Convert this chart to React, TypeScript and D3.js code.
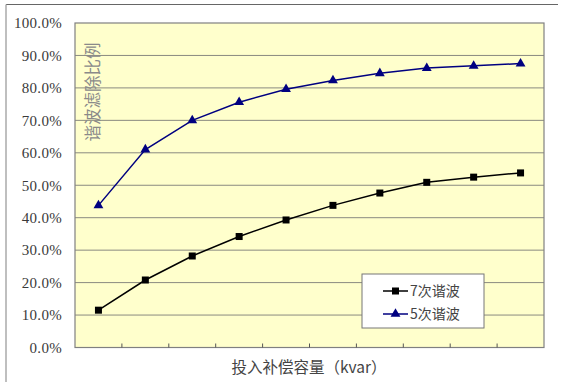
import React from "react";
import * as d3 from "d3";

const categories = ["1", "2", "3", "4", "5", "6", "7", "8", "9", "10"];
const harmonic7 = [11.5, 20.8, 28.2, 34.2, 39.3, 43.8, 47.6, 50.9, 52.5, 53.8];
const harmonic5 = [43.8, 61.0, 70.0, 75.6, 79.6, 82.3, 84.5, 86.1, 86.8, 87.5];
const yTicks = [0, 10, 20, 30, 40, 50, 60, 70, 80, 90, 100];
const seriesNames = ["7次谐波", "5次谐波"];
const xTitle = "投入补偿容量（kvar）";
const yTitle = "谐波滤除比例";

const W = 564;
const H = 382;
const plot = { left: 75, right: 544, top: 23, bottom: 347.5 };

export default function App() {
  const x = d3
    .scaleBand<string>()
    .domain(categories)
    .range([plot.left, plot.right]);
  const y = d3.scaleLinear().domain([0, 100]).range([plot.bottom, plot.top]);
  const cx = (c: string) => (x(c) as number) + x.bandwidth() / 2;

  const line = d3
    .line<number>()
    .x((_, i) => cx(categories[i]))
    .y((d) => y(d));

  const tri = d3.symbol().type(d3.symbolTriangle).size(42)();
  const cjk = "'Noto Sans CJK SC', sans-serif";
  const serif = "'Liberation Serif', 'DejaVu Serif', serif";

  return (
    <svg
      width={W}
      height={H}
      style={{ position: "absolute", left: 0, top: 0, display: "block" }}
    >
      <rect x={0} y={0} width={W} height={H} fill="#ffffff" />
      <line x1={6} y1={4.5} x2={558} y2={4.5} stroke="#666" strokeWidth={1.2} />
      <line x1={6} y1={4.5} x2={6} y2={H} stroke="#aaa" strokeWidth={1.5} />

      <rect
        x={plot.left}
        y={plot.top}
        width={plot.right - plot.left}
        height={plot.bottom - plot.top}
        fill="#FFFFCC"
      />
      {yTicks.slice(1, -1).map((t) => (
        <line
          key={t}
          x1={plot.left}
          x2={plot.right}
          y1={y(t)}
          y2={y(t)}
          stroke="#8a8a80"
          strokeWidth={1}
        />
      ))}
      <rect
        x={plot.left}
        y={plot.top}
        width={plot.right - plot.left}
        height={plot.bottom - plot.top}
        fill="none"
        stroke="#808080"
        strokeWidth={1.2}
      />
      {categories.slice(1).map((c) => (
        <line
          key={c}
          x1={x(c) as number}
          x2={x(c) as number}
          y1={plot.bottom}
          y2={plot.bottom - 4}
          stroke="#555"
          strokeWidth={1}
        />
      ))}
      {yTicks.map((t) => (
        <text
          key={t}
          x={62}
          y={y(t)}
          dy="0.35em"
          textAnchor="end"
          fontFamily={serif}
          fontSize={15}
          fill="#3a3a3a"
          letterSpacing={0.3}
        >
          {t.toFixed(1) + "%"}
        </text>
      ))}

      <text
        transform={`translate(99,92) rotate(-90)`}
        textAnchor="middle"
        fontFamily={cjk}
        fontSize={16.5}
        fill="#8a8a8a"
      >
        {yTitle}
      </text>

      <path
        d={line(harmonic5) || ""}
        fill="none"
        stroke="#000080"
        strokeWidth={1.5}
      />
      {harmonic5.map((v, i) => (
        <path
          key={i}
          d={tri || ""}
          transform={`translate(${cx(categories[i])},${y(v)})`}
          fill="#000080"
        />
      ))}
      <path
        d={line(harmonic7) || ""}
        fill="none"
        stroke="#000000"
        strokeWidth={1.5}
      />
      {harmonic7.map((v, i) => (
        <rect
          key={i}
          x={cx(categories[i]) - 3.5}
          y={y(v) - 3.5}
          width={7}
          height={7}
          fill="#000"
        />
      ))}

      <text
        x={309}
        y={373}
        textAnchor="middle"
        fontFamily={cjk}
        fontSize={15.5}
        fill="#444"
      >
        {xTitle}
      </text>

      <rect
        x={362}
        y={274}
        width={122}
        height={54}
        fill="#ffffff"
        stroke="#777"
        strokeWidth={1}
      />
      {seriesNames.map((n, i) => {
        const ly = 291 + i * 23;
        const color = i === 0 ? "#000" : "#000080";
        return (
          <g key={n}>
            <line x1={383} x2={408} y1={ly} y2={ly} stroke={color} strokeWidth={1.5} />
            {i === 0 ? (
              <rect x={392} y={ly - 3.5} width={7} height={7} fill="#000" />
            ) : (
              <path d={tri || ""} transform={`translate(395.5,${ly})`} fill="#000080" />
            )}
            <text
              x={410}
              y={ly}
              dy="0.36em"
              fontFamily={cjk}
              fontSize={14}
              fill="#444"
            >
              {n}
            </text>
          </g>
        );
      })}
    </svg>
  );
}
